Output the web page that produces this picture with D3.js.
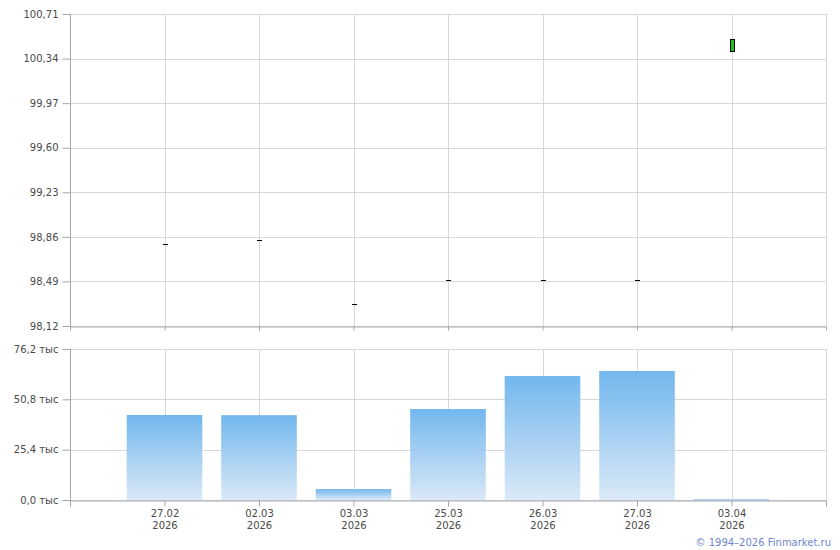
<!DOCTYPE html>
<html><head><meta charset="utf-8">
<script src="https://cdn.jsdelivr.net/npm/d3@7"></script>
<style>body{margin:0;background:#fff;}svg{display:block;font-family:"DejaVu Sans",Verdana,sans-serif;}</style>
</head><body><svg id="c" width="840" height="550"></svg>
<script>
const dates = ["27.02","02.03","03.03","25.03","26.03","27.03","03.04"];
const years = ["2026","2026","2026","2026","2026","2026","2026"];
const open  = [98.80, 98.83, 98.30, 98.50, 98.50, 98.50, 100.40];
const close = [98.80, 98.83, 98.30, 98.50, 98.50, 98.50, 100.50];
const high  = [98.80, 98.83, 98.30, 98.50, 98.50, 98.50, 100.50];
const low   = [98.80, 98.83, 98.30, 98.50, 98.50, 98.50, 100.40];
const volume = [42.9, 42.8, 5.5, 45.9, 62.6, 65.1, 0.5];
const priceTicks = [98.12, 98.49, 98.86, 99.23, 99.60, 99.97, 100.34, 100.71];
const volTicks = [0, 25.4, 50.8, 76.2];

const svg = d3.select("#c");
const L = 70, R = 826;
const x = d3.scalePoint().domain(dates).range([L, R]).padding(1);
const step = x.step();
const yP = d3.scaleLinear().domain([98.12, 100.71]).range([326, 14]);
const yV = d3.scaleLinear().domain([0, 76.2]).range([500, 349]);
const fmt = v => v.toFixed(2).replace(".", ",");
const fmtV = v => v.toFixed(1).replace(".", ",") + " тыс";
const grid = "#d5d9de", axisC = "#a4a8b0", txt = "#4a4a4a";

const defs = svg.append("defs");
const g = defs.append("linearGradient").attr("id","bg").attr("x1",0).attr("y1",0).attr("x2",0).attr("y2",1);
g.append("stop").attr("offset","0%").attr("stop-color","#72b7ee");
g.append("stop").attr("offset","100%").attr("stop-color","#dbe9f7");

function panel(y, ticks, y0, y1) {
  const p = svg.append("g");
  p.selectAll(".hg").data(ticks).join("line")
    .attr("x1", L).attr("x2", R).attr("y1", d => Math.round(y(d))+0.5).attr("y2", d => Math.round(y(d))+0.5)
    .attr("stroke", grid);
  p.selectAll(".vg").data(dates).join("line")
    .attr("x1", d => Math.round(x(d))+0.5).attr("x2", d => Math.round(x(d))+0.5)
    .attr("y1", y0).attr("y2", y1).attr("stroke", grid);
  p.append("line").attr("x1", R+0.5).attr("x2", R+0.5).attr("y1", y0).attr("y2", y1).attr("stroke", grid);
  return p;
}

// Top panel
panel(yP, priceTicks, 14, 326);
const gyp = svg.append("g").attr("transform", `translate(${L+0.5},0)`)
  .call(d3.axisLeft(yP).tickValues(priceTicks).tickFormat(fmt).tickSize(8).tickPadding(4));
gyp.select(".domain").attr("d", "M0,14V330");
svg.append("g").attr("transform", "translate(0,326.5)")
  .call(d3.axisBottom(x).tickSize(4).tickFormat(""));

// candles
const cw = 4;
svg.append("g").selectAll("line").data(dates).join("line")
  .attr("x1", d => Math.round(x(d))+0.5).attr("x2", d => Math.round(x(d))+0.5)
  .attr("y1", (d,i) => yP(high[i])).attr("y2", (d,i) => yP(low[i])).attr("stroke", "#000");
svg.append("g").selectAll("rect").data(dates).join("rect")
  .attr("x", d => Math.round(x(d)) - cw/2 + 0.5)
  .attr("y", (d,i) => Math.round(yP(Math.max(open[i], close[i]))) + 0.5)
  .attr("width", cw)
  .attr("height", (d,i) => Math.max(0.01, Math.abs(yP(open[i]) - yP(close[i]))))
  .attr("fill", (d,i) => close[i] > open[i] ? "#1fc21f" : "#000")
  .attr("stroke", "#000").attr("stroke-width", 1);

// Bottom panel
panel(yV, volTicks, 349, 500);
const bw = step * 0.8;
svg.append("g").selectAll("rect").data(dates).join("rect")
  .attr("x", d => x(d) - bw/2).attr("width", bw)
  .attr("y", (d,i) => yV(volume[i])).attr("height", (d,i) => yV(0) - yV(volume[i]))
  .attr("fill", "url(#bg)");
const gyv = svg.append("g").attr("transform", `translate(${L+0.5},0)`)
  .call(d3.axisLeft(yV).tickValues(volTicks).tickFormat(fmtV).tickSize(8).tickPadding(4));
gyv.select(".domain").attr("d", "M0,349V507");
const gxv = svg.append("g").attr("transform", "translate(0,500.5)")
  .call(d3.axisBottom(x).tickSize(6).tickFormat(""));
gxv.append("line").attr("x1", R+0.5).attr("x2", R+0.5).attr("y1", 0).attr("y2", 6).attr("stroke", axisC);

svg.selectAll(".domain").attr("stroke", axisC);
svg.selectAll(".tick line").attr("stroke", axisC);
svg.selectAll(".tick text").attr("fill", txt).attr("font-size", 10).attr("font-family", '"DejaVu Sans",Verdana,sans-serif');

const xl = svg.append("g");
xl.selectAll(".d").data(dates).join("text").attr("x", d => x(d)+0.5).attr("y", 517)
  .attr("text-anchor","middle").attr("font-size",10).attr("fill",txt).text(d => d);
xl.selectAll(".yr").data(dates).join("text").attr("x", d => x(d)+0.5).attr("y", 529)
  .attr("text-anchor","middle").attr("font-size",10).attr("fill",txt).text((d,i) => years[i]);

svg.append("text").attr("x", 831).attr("y", 546).attr("text-anchor","end")
  .attr("font-size",10).attr("fill","#6f86d0").text("© 1994–2026 Finmarket.ru");
</script></body></html>
